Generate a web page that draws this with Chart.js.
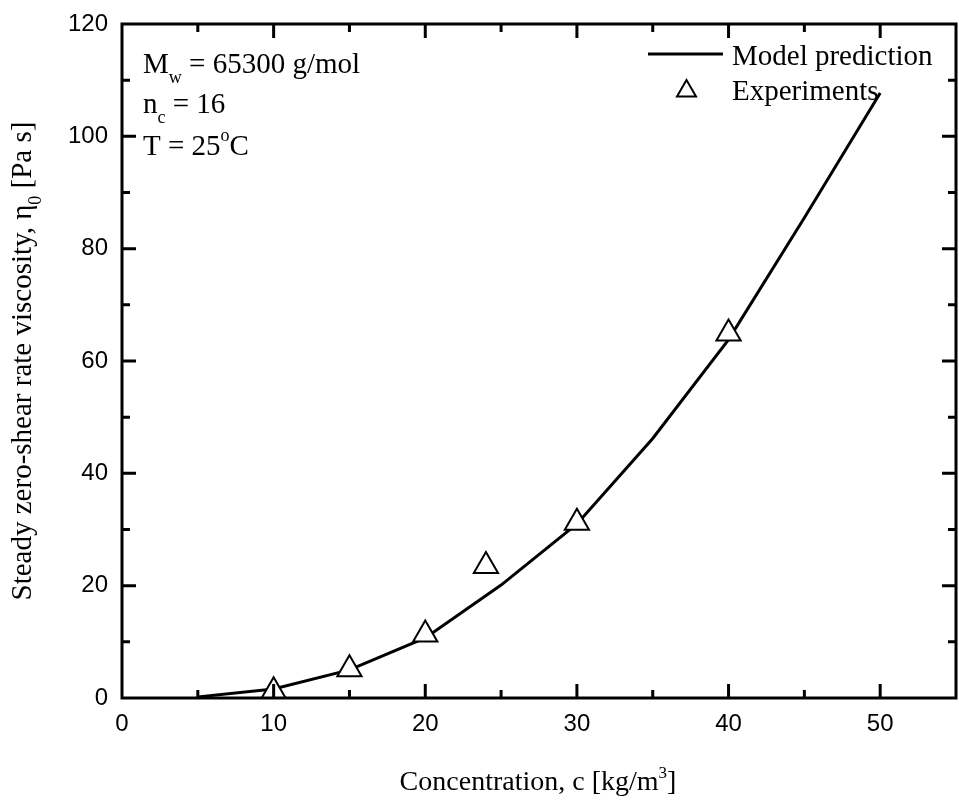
<!DOCTYPE html>
<html>
<head>
<meta charset="utf-8">
<script src="https://cdn.jsdelivr.net/npm/chart.js@4"></script>
<style>
html, body { margin: 0; padding: 0; background: #fff; }
</style>
</head>
<body>
<canvas id="myChart" width="959" height="800"></canvas>
<script>
// model curve
const modelConc = [5, 10, 15, 20, 25, 30, 35, 40, 45, 50];
const modelVisc = [0.2, 1.6, 5.0, 10.7, 20.1, 31.0, 46.2, 63.8, 85.5, 107.7];
// experiments
const expConc = [10, 15, 20, 24, 30, 40];
const expVisc = [1.2, 5.1, 11.3, 23.5, 31.2, 64.9];

const xTicks = [0, 10, 20, 30, 40, 50];
const yTicks = [0, 20, 40, 60, 80, 100, 120];
const xMinor = [5, 15, 25, 35, 45];
const yMinor = [10, 30, 50, 70, 90, 110];

const serif = '"Liberation Serif", "Times New Roman", serif';
const sans = '"Liberation Sans", Arial, sans-serif';

// text with sub/superscripts: parts = [text, shift] (shift 0 = normal, >0 down, <0 up, in em)
function richText(ctx, parts, x, y, size, align) {
  const small = Math.round(size * 0.62);
  let total = 0;
  const widths = parts.map(p => {
    ctx.font = (p[1] ? small : size) + 'px ' + serif;
    const w = ctx.measureText(p[0]).width;
    total += w;
    return w;
  });
  let cx = align === 'center' ? x - total / 2 : x;
  parts.forEach((p, i) => {
    ctx.font = (p[1] ? small : size) + 'px ' + serif;
    ctx.fillText(p[0], cx, y + p[1] * size);
    cx += widths[i];
  });
}

function triangle(ctx, x, y, r) {
  ctx.beginPath();
  let rad = 0;
  for (let i = 0; i < 3; i++) {
    const px = x + Math.sin(rad) * r, py = y - Math.cos(rad) * r;
    if (i === 0) ctx.moveTo(px, py); else ctx.lineTo(px, py);
    rad += Math.PI * 2 / 3;
  }
  ctx.closePath();
}

const framePlugin = {
  id: 'frame',
  afterDatasetsDraw(chart) {
    const ctx = chart.ctx;
    const a = chart.chartArea;
    const xs = chart.scales.x, ys = chart.scales.y;
    ctx.save();
    ctx.strokeStyle = '#000';
    ctx.lineWidth = 3;
    ctx.strokeRect(a.left, a.top, a.right - a.left, a.bottom - a.top);
    ctx.beginPath();
    const tk = (list, len) => {
      list.forEach(v => {
        const px = xs.getPixelForValue(v);
        ctx.moveTo(px, a.bottom); ctx.lineTo(px, a.bottom - len);
        ctx.moveTo(px, a.top); ctx.lineTo(px, a.top + len);
      });
    };
    const tky = (list, len) => {
      list.forEach(v => {
        const py = ys.getPixelForValue(v);
        ctx.moveTo(a.left, py); ctx.lineTo(a.left + len, py);
        ctx.moveTo(a.right, py); ctx.lineTo(a.right - len, py);
      });
    };
    tk(xTicks.slice(1), 14);
    tk(xMinor, 8);
    tky(yTicks.slice(1, -1), 14);
    tky(yMinor, 8);
    ctx.stroke();
    ctx.restore();
  },
  afterDraw(chart) {
    const ctx = chart.ctx;
    ctx.save();
    ctx.fillStyle = '#000';
    ctx.textBaseline = 'alphabetic';
    ctx.textAlign = 'left';

    // notes top-left
    richText(ctx, [['M', 0], ['w', 0.36], [' = 65300 g/mol', 0]], 143, 73, 29);
    richText(ctx, [['n', 0], ['c', 0.36], [' = 16', 0]], 143, 113, 29);
    richText(ctx, [['T = 25', 0], ['o', -0.47], ['C', 0]], 143, 155, 29);

    // legend
    ctx.strokeStyle = '#000';
    ctx.lineWidth = 3;
    ctx.beginPath();
    ctx.moveTo(648, 54); ctx.lineTo(723, 54);
    ctx.stroke();
    ctx.lineWidth = 2;
    ctx.fillStyle = '#fff';
    triangle(ctx, 686.5, 91, 11);
    ctx.fill(); ctx.stroke();
    ctx.fillStyle = '#000';
    richText(ctx, [['Model prediction', 0]], 732, 65, 29);
    richText(ctx, [['Experiments', 0]], 732, 100, 29);

    // axis titles
    richText(ctx, [['Concentration, c [kg/m', 0], ['3', -0.42], [']', 0]], 538, 790, 28, 'center');
    ctx.translate(31, 361);
    ctx.rotate(-Math.PI / 2);
    richText(ctx, [['Steady zero-shear rate viscosity, \u03b7', 0], ['0', 0.36], [' [Pa s]', 0]], 0, 0, 29, 'center');
    ctx.restore();
  }
};

const ctx = document.querySelector('#myChart').getContext('2d');

const data = {
  datasets: [
    {
      label: 'Model prediction',
      data: modelConc.map((c, i) => ({ x: c, y: modelVisc[i] })),
      showLine: true,
      borderColor: '#000',
      borderWidth: 3,
      pointRadius: 0,
      tension: 0,
      order: 2,
    },
    {
      label: 'Experiments',
      data: expConc.map((c, i) => ({ x: c, y: expVisc[i] })),
      showLine: false,
      pointStyle: 'triangle',
      pointRadius: 14,
      pointHoverRadius: 14,
      pointBorderWidth: 2,
      pointBackgroundColor: '#fff',
      pointBorderColor: '#000',
      order: 1,
    },
  ],
};

const config = {
  type: 'scatter',
  data: data,
  plugins: [framePlugin],
  options: {
    responsive: false,
    animation: false,
    layout: { autoPadding: false, padding: { left: 0, right: 3, top: 24, bottom: 0 } },
    plugins: {
      legend: { display: false },
      tooltip: { enabled: false },
    },
    scales: {
      x: {
        type: 'linear',
        min: 0,
        max: 55,
        afterBuildTicks: s => { s.ticks = xTicks.map(v => ({ value: v })); },
        afterFit: s => { s.height = 102; s.paddingLeft = 0; s.paddingRight = 0; },
        grid: { display: false, drawTicks: false },
        border: { display: false },
        ticks: { color: '#000', padding: 12, maxRotation: 0, autoSkip: false, font: { family: sans, size: 24 } },
      },
      y: {
        type: 'linear',
        min: 0,
        max: 120,
        afterBuildTicks: s => { s.ticks = yTicks.map(v => ({ value: v })); },
        afterFit: s => { s.width = 122; s.paddingTop = 0; s.paddingBottom = 0; },
        grid: { display: false, drawTicks: false },
        border: { display: false },
        ticks: { color: '#000', padding: 14, autoSkip: false, font: { family: sans, size: 24 } },
      },
    },
  },
};

const myChart = new Chart(ctx, config);
</script>
</body>
</html>
